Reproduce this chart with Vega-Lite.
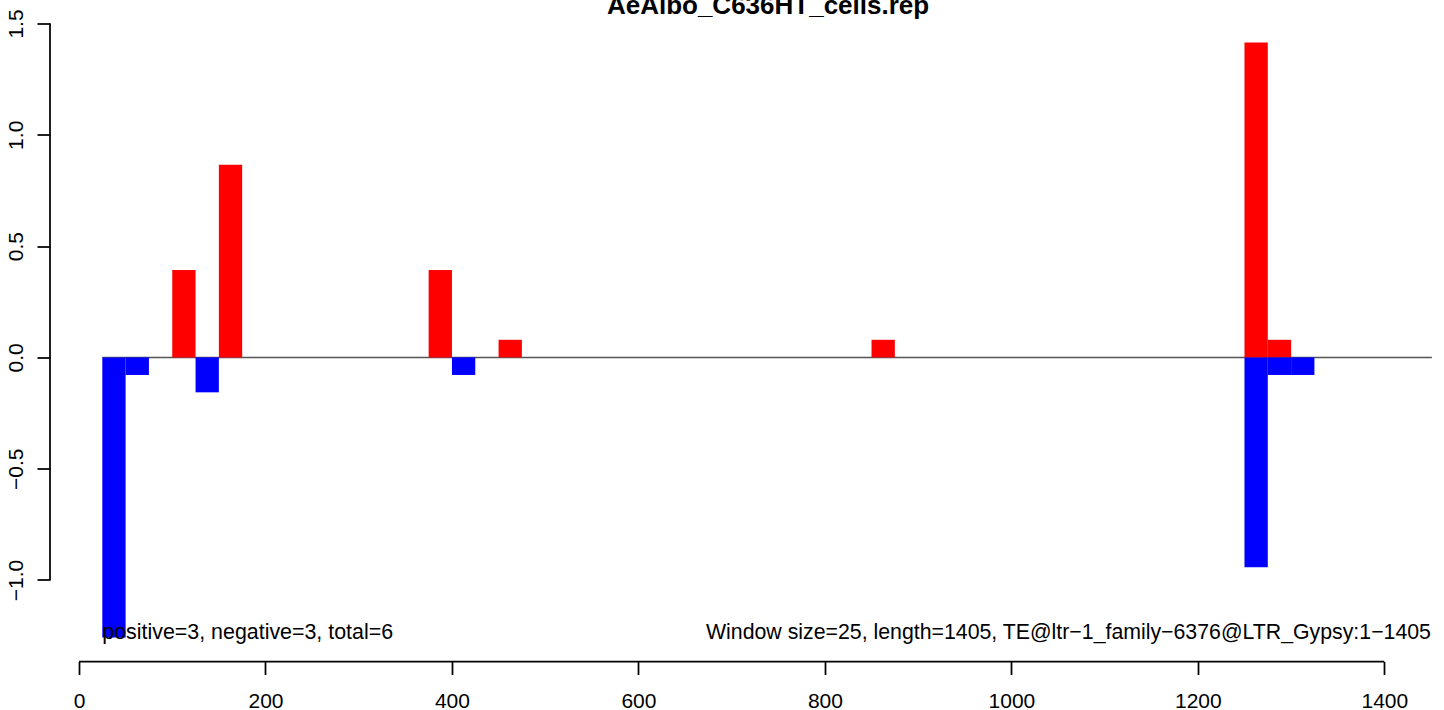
{
  "$schema": "https://vega.github.io/schema/vega-lite/v6.json",
  "autosize": "none",
  "padding": {"left": 50, "top": 18.5, "right": 4, "bottom": 48.5},
  "width": 1390,
  "height": 643,
  "background": "white",
  "config": {
    "view": {"stroke": null},
    "font": "Liberation Sans",
    "axis": {
      "grid": false,
      "domain": false,
      "tickColor": "black",
      "tickWidth": 1.75,
      "tickSize": 13,
      "labelFont": "Liberation Sans",
      "labelFontSize": 21,
      "labelColor": "black",
      "title": null
    }
  },
  "layer": [
    {
      "data": {"values": [{"from": 25, "to": 1451, "level": 0}]},
      "mark": {"type": "rule", "color": "#555555", "strokeWidth": 1.5},
      "encoding": {
        "x": {"field": "from", "type": "quantitative", "scale": {"domain": [-31.1, 1459.7], "nice": false, "zero": false},
          "axis": {"values": [0, 200, 400, 600, 800, 1000, 1200, 1400], "labelBaseline": "alphabetic", "labelPadding": 33, "labelAngle": 0, "format": "d", "labelFlush": false, "labelOverlap": false}},
        "x2": {"field": "to"},
        "y": {"field": "level", "type": "quantitative", "scale": {"domain": [-1.3662, 1.5224], "nice": false, "zero": false},
          "axis": {"values": [-1, -0.5, 0, 0.5, 1, 1.5], "format": ".1f", "labelAngle": -90, "labelAlign": "center", "labelBaseline": "alphabetic", "labelPadding": 15, "labelFlush": false, "labelOverlap": false}}
      }
    },
    {
      "data": {"values": [
        {"start": 25, "end": 50, "value": -1.258, "strand": "minus"},
        {"start": 50, "end": 75, "value": -0.079, "strand": "minus"},
        {"start": 100, "end": 125, "value": 0.393, "strand": "plus"},
        {"start": 125, "end": 150, "value": -0.157, "strand": "minus"},
        {"start": 150, "end": 175, "value": 0.865, "strand": "plus"},
        {"start": 375, "end": 400, "value": 0.393, "strand": "plus"},
        {"start": 400, "end": 425, "value": -0.079, "strand": "minus"},
        {"start": 450, "end": 475, "value": 0.079, "strand": "plus"},
        {"start": 850, "end": 875, "value": 0.079, "strand": "plus"},
        {"start": 1250, "end": 1275, "value": 1.415, "strand": "plus"},
        {"start": 1250, "end": 1275, "value": -0.943, "strand": "minus"},
        {"start": 1275, "end": 1300, "value": 0.079, "strand": "plus"},
        {"start": 1275, "end": 1300, "value": -0.079, "strand": "minus"},
        {"start": 1300, "end": 1325, "value": -0.079, "strand": "minus"}
      ]},
      "mark": {"type": "rect"},
      "encoding": {
        "x": {"field": "start", "type": "quantitative"},
        "x2": {"field": "end"},
        "y": {"field": "value", "type": "quantitative"},
        "y2": {"datum": 0},
        "color": {"field": "strand", "type": "nominal", "scale": {"domain": ["plus", "minus"], "range": ["#ff0000", "#0000ff"]}, "legend": null}
      }
    },
    {
      "data": {"values": [{"a": 0, "b": 1400, "lvl": -1.3662}]},
      "mark": {"type": "rule", "color": "black", "strokeWidth": 1.75},
      "encoding": {
        "x": {"field": "a", "type": "quantitative"},
        "x2": {"field": "b"},
        "y": {"field": "lvl", "type": "quantitative"}
      }
    },
    {
      "data": {"values": [{"a": -1, "b": 1.5, "pos": -31.1}]},
      "mark": {"type": "rule", "color": "black", "strokeWidth": 1.75},
      "encoding": {
        "y": {"field": "a", "type": "quantitative"},
        "y2": {"field": "b"},
        "x": {"field": "pos", "type": "quantitative"}
      }
    },
    {
      "data": {"values": [{"label": "positive=3, negative=3, total=6", "xpos": 25, "ypos": -1.266}]},
      "mark": {"type": "text", "font": "Liberation Sans", "fontSize": 21.4, "color": "black", "baseline": "alphabetic", "align": "left"},
      "encoding": {
        "x": {"field": "xpos", "type": "quantitative"},
        "y": {"field": "ypos", "type": "quantitative"},
        "text": {"field": "label"}
      }
    },
    {
      "data": {"values": [{"label": "Window size=25, length=1405, TE@ltr\u22121_family\u22126376@LTR_Gypsy:1\u22121405", "xpos": 1450, "ypos": -1.266}]},
      "mark": {"type": "text", "font": "Liberation Sans", "fontSize": 21.3, "color": "black", "baseline": "alphabetic", "align": "right"},
      "encoding": {
        "x": {"field": "xpos", "type": "quantitative"},
        "y": {"field": "ypos", "type": "quantitative"},
        "text": {"field": "label"}
      }
    },
    {
      "data": {"values": [{"label": "AeAlbo_C636HT_cells.rep", "xpos": 739, "ypos": 1.5422}]},
      "mark": {"type": "text", "font": "Liberation Sans", "fontSize": 26, "fontWeight": "bold", "color": "black", "baseline": "alphabetic", "align": "center"},
      "encoding": {
        "x": {"field": "xpos", "type": "quantitative"},
        "y": {"field": "ypos", "type": "quantitative"},
        "text": {"field": "label"}
      }
    }
  ]
}
